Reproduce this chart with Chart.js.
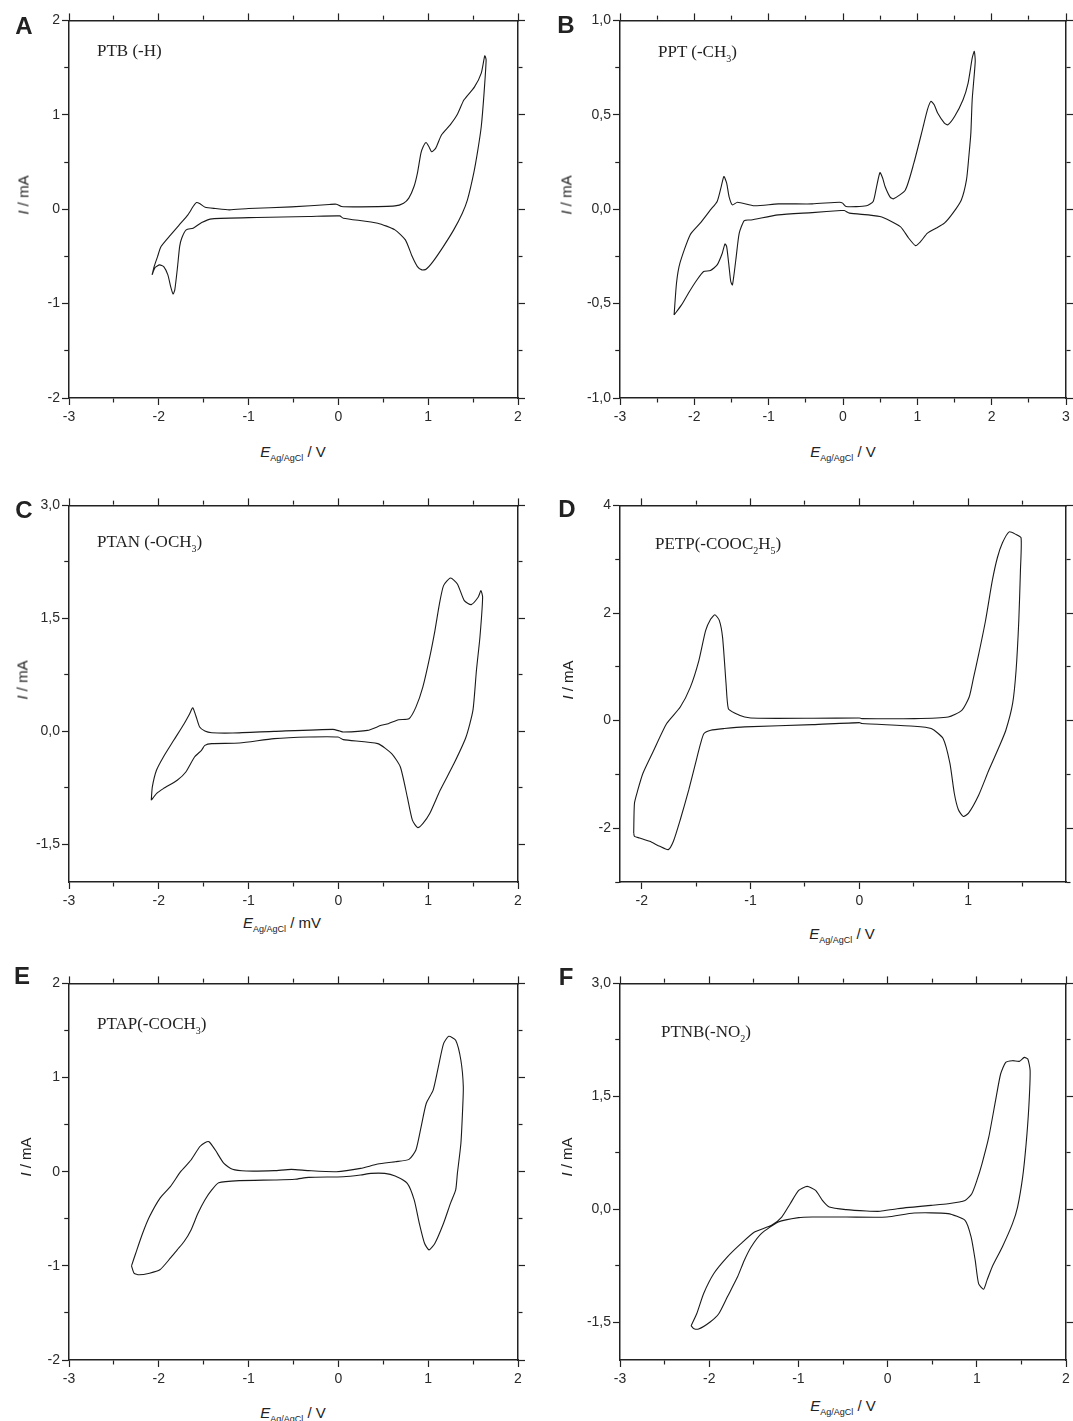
<!DOCTYPE html>
<html>
<head>
<meta charset="utf-8">
<script src="https://cdn.jsdelivr.net/npm/chart.js@4.4.1/dist/chart.umd.min.js"></script>
<style>
  body { margin: 0; background: #fff; width: 1073px; height: 1421px; position: relative; overflow: hidden;
         font-family: "Liberation Sans", Arial, sans-serif; color: #222; }
  canvas { position: absolute; }
  .lbl { position: absolute; white-space: nowrap; transform: translate(-50%, -50%); line-height: 1; }
  .letter { font-weight: bold; font-size: 24px; }
  .xt { font-size: 15px; }
  .yt { font-size: 15px; transform: translate(-50%, -50%) rotate(-90deg); }
  .note { font-family: "Liberation Serif", "Times New Roman", serif; font-size: 17px; transform: translate(0, -50%); }
  sub { font-size: 9px; vertical-align: -4px; line-height: 0; }
  .note sub { font-size: 10px; vertical-align: -5px; }
</style>
</head>
<body>
<script>
// cyclic voltammograms, [E (V), I (mA)], one closed loop each
const ptbLoop = [
  [-2.075,-0.696],[-2.052,-0.608],[-2.014,-0.502],[-1.975,-0.396],[-1.868,-0.272],[-1.772,-0.166],
  [-1.676,-0.060],[-1.618,0.028],[-1.580,0.071],[-1.541,0.057],[-1.484,0.021],[-1.368,0.007],
  [-1.214,-0.007],[-1.0,0.007],[-0.523,0.025],[-0.10,0.05],[-0.023,0.053],[0.035,0.028],
  [0.246,0.025],[0.630,0.035],[0.726,0.064],[0.784,0.117],[0.842,0.240],[0.880,0.382],
  [0.919,0.594],[0.945,0.664],[0.976,0.707],[1.007,0.664],[1.038,0.608],[1.084,0.647],
  [1.149,0.788],[1.245,0.894],[1.322,1.0],[1.399,1.159],[1.514,1.293],[1.591,1.442],[1.630,1.625],
  [1.645,1.583],[1.622,1.230],[1.591,0.876],[1.553,0.629],[1.507,0.382],[1.437,0.099],
  [1.380,-0.042],[1.284,-0.219],[1.168,-0.396],[1.053,-0.555],[0.976,-0.636],[0.930,-0.643],
  [0.880,-0.608],[0.822,-0.502],[0.746,-0.325],[0.630,-0.219],[0.438,-0.148],[0.054,-0.095],
  [0.015,-0.071],[-0.331,-0.078],[-0.907,-0.088],[-1.407,-0.102],[-1.522,-0.141],[-1.618,-0.201],
  [-1.695,-0.219],[-1.745,-0.307],[-1.768,-0.396],[-1.791,-0.608],[-1.822,-0.855],[-1.841,-0.898],
  [-1.868,-0.820],[-1.899,-0.696],[-1.945,-0.608],[-1.991,-0.590],[-2.041,-0.618],[-2.075,-0.696]
];
const pptLoop = [
  [-2.272,-0.560],[-2.240,-0.392],[-2.194,-0.286],[-2.057,-0.136],[-1.921,-0.074],[-1.784,-0.004],
  [-1.693,0.041],[-1.638,0.120],[-1.602,0.173],[-1.565,0.138],[-1.533,0.067],[-1.488,0.023],
  [-1.419,0.037],[-1.191,0.018],[-0.871,0.028],[-0.415,0.028],[-0.050,0.037],[-0.005,0.032],
  [0.041,0.014],[0.315,0.018],[0.406,0.041],[0.452,0.120],[0.497,0.194],[0.534,0.164],
  [0.566,0.120],[0.634,0.064],[0.680,0.055],[0.839,0.102],[0.953,0.244],[1.068,0.420],
  [1.136,0.527],[1.182,0.571],[1.227,0.553],[1.273,0.509],[1.364,0.456],[1.410,0.447],
  [1.501,0.491],[1.615,0.580],[1.683,0.668],[1.738,0.800],[1.766,0.836],
  [1.779,0.783],[1.738,0.580],[1.720,0.403],[1.693,0.279],[1.661,0.155],[1.592,0.049],
  [1.478,-0.021],[1.364,-0.074],[1.250,-0.101],[1.136,-0.127],[1.045,-0.171],[0.976,-0.193],
  [0.885,-0.154],[0.771,-0.092],[0.497,-0.039],[0.087,-0.021],[0.018,-0.007],[-0.027,-0.007],
  [-0.415,-0.018],[-0.871,-0.030],[-1.236,-0.057],[-1.328,-0.060],[-1.396,-0.127],[-1.442,-0.269],
  [-1.487,-0.401],[-1.510,-0.383],[-1.533,-0.304],[-1.565,-0.198],[-1.588,-0.184],[-1.624,-0.233],
  [-1.693,-0.295],[-1.784,-0.325],[-1.875,-0.330],[-1.966,-0.375],[-2.080,-0.445],[-2.172,-0.507],
  [-2.272,-0.560]
];
const ptanLoop = [
  [-2.084,-0.914],[-2.072,-0.738],[-2.026,-0.517],[-1.949,-0.340],[-1.834,-0.119],[-1.718,0.102],
  [-1.656,0.234],[-1.622,0.314],[-1.583,0.190],[-1.545,0.057],[-1.487,0.004],[-1.410,-0.018],
  [-1.179,-0.022],[-0.716,0.0],[-0.062,0.027],[0.015,0.004],[0.054,-0.009],[0.324,0.013],
  [0.478,0.080],[0.555,0.102],[0.670,0.155],[0.786,0.168],[0.863,0.322],[0.940,0.587],
  [1.017,0.985],[1.075,1.338],[1.125,1.692],[1.171,1.935],[1.248,2.036],[1.325,1.957],
  [1.402,1.736],[1.479,1.683],[1.556,1.780],[1.587,1.868],
  [1.606,1.780],[1.576,1.250],[1.537,0.808],[1.498,0.278],[1.421,-0.075],[1.287,-0.428],
  [1.133,-0.782],[1.017,-1.091],[0.940,-1.224],[0.882,-1.277],[0.824,-1.179],[0.767,-0.870],
  [0.690,-0.473],[0.593,-0.296],[0.439,-0.163],[0.054,-0.110],[-0.004,-0.075],[-0.331,-0.075],
  [-0.716,-0.097],[-1.102,-0.155],[-1.410,-0.163],[-1.487,-0.186],[-1.525,-0.252],[-1.602,-0.340],
  [-1.699,-0.539],[-1.795,-0.649],[-1.949,-0.760],[-2.026,-0.826],[-2.084,-0.914]
];
const petpLoop = [
  [-2.074,-2.090],[-2.067,-1.535],[-2.036,-1.289],[-1.989,-0.980],[-1.896,-0.580],[-1.771,-0.055],
  [-1.646,0.253],[-1.553,0.623],[-1.475,1.116],[-1.413,1.671],[-1.366,1.887],[-1.328,1.967],
  [-1.288,1.868],[-1.257,1.547],[-1.225,0.684],[-1.204,0.222],[-1.147,0.142],[-1.054,0.068],
  [-0.929,0.043],[-0.430,0.043],[0.0,0.049],[0.022,0.037],[0.505,0.037],[0.817,0.068],
  [0.942,0.191],[1.010,0.438],[1.051,0.808],[1.098,1.239],[1.160,1.856],[1.222,2.596],
  [1.269,3.027],[1.316,3.305],[1.378,3.508],[1.441,3.459],[1.487,3.397],
  [1.481,2.781],[1.466,1.856],[1.441,0.931],[1.409,0.314],[1.347,-0.179],[1.285,-0.487],
  [1.191,-0.919],[1.098,-1.381],[1.004,-1.720],[0.957,-1.782],[0.911,-1.658],[0.873,-1.350],
  [0.833,-0.795],[0.770,-0.333],[0.661,-0.148],[0.505,-0.105],[0.022,-0.055],[0.0,-0.037],
  [-0.430,-0.074],[-1.054,-0.117],[-1.241,-0.148],[-1.366,-0.179],[-1.428,-0.240],[-1.459,-0.425],
  [-1.506,-0.795],[-1.568,-1.289],[-1.646,-1.843],[-1.709,-2.244],[-1.756,-2.398],[-1.834,-2.337],
  [-1.927,-2.244],[-2.021,-2.182],[-2.067,-2.152],[-2.074,-2.090]
];
const ptapLoop = [
  [-2.304,-1.0],[-2.257,-0.866],[-2.180,-0.654],[-2.103,-0.477],[-1.988,-0.283],[-1.872,-0.159],
  [-1.757,0.0],[-1.641,0.124],[-1.545,0.265],[-1.487,0.307],[-1.441,0.318],[-1.371,0.230],
  [-1.275,0.088],[-1.179,0.025],[-1.025,0.007],[-0.716,0.011],[-0.524,0.025],[-0.331,0.011],
  [-0.023,0.0],[0.247,0.035],[0.439,0.081],[0.632,0.106],[0.786,0.131],[0.863,0.230],
  [0.921,0.477],[0.978,0.724],[1.055,0.866],[1.113,1.113],[1.171,1.360],[1.229,1.438],
  [1.306,1.396],[1.364,1.184],[1.391,0.901],
  [1.383,0.654],[1.364,0.300],[1.325,-0.018],[1.306,-0.194],[1.248,-0.336],[1.171,-0.548],
  [1.075,-0.760],[1.009,-0.830],[0.959,-0.760],[0.901,-0.548],[0.844,-0.300],[0.767,-0.124],
  [0.632,-0.046],[0.516,-0.018],[0.362,-0.018],[0.247,-0.035],[0.054,-0.053],[-0.331,-0.060],
  [-0.485,-0.081],[-0.716,-0.088],[-1.102,-0.095],[-1.333,-0.117],[-1.410,-0.194],[-1.487,-0.300],
  [-1.564,-0.442],[-1.641,-0.618],[-1.718,-0.742],[-1.795,-0.830],[-1.872,-0.919],[-1.988,-1.042],
  [-2.103,-1.078],[-2.219,-1.095],[-2.276,-1.078],[-2.304,-1.0]
];
const ptnbLoop = [
  [-2.203,-1.545],[-2.139,-1.382],[-2.062,-1.117],[-1.948,-0.852],[-1.796,-0.631],[-1.644,-0.455],
  [-1.492,-0.300],[-1.301,-0.212],[-1.187,-0.102],[-1.092,0.075],[-0.997,0.252],[-0.902,0.305],
  [-0.807,0.252],[-0.731,0.119],[-0.654,0.031],[-0.464,-0.004],[-0.236,-0.022],[-0.084,-0.026],
  [0.107,0.009],[0.487,0.053],[0.677,0.075],[0.868,0.119],[0.944,0.208],[1.001,0.384],
  [1.058,0.605],[1.134,0.958],[1.210,1.444],[1.267,1.797],[1.324,1.951],[1.400,1.974],
  [1.476,1.965],[1.533,2.018],[1.572,1.996],[1.598,1.841],
  [1.583,1.355],[1.553,0.870],[1.514,0.428],[1.457,0.031],[1.400,-0.190],[1.286,-0.499],
  [1.172,-0.764],[1.115,-0.940],[1.077,-1.060],[1.020,-0.985],[0.982,-0.675],[0.936,-0.366],
  [0.868,-0.146],[0.677,-0.057],[0.297,-0.049],[-0.008,-0.102],[-0.464,-0.102],[-0.845,-0.102],
  [-0.997,-0.110],[-1.225,-0.168],[-1.416,-0.322],[-1.530,-0.499],[-1.606,-0.675],[-1.682,-0.896],
  [-1.796,-1.161],[-1.891,-1.382],[-1.986,-1.492],[-2.119,-1.589],[-2.176,-1.581],[-2.203,-1.545]
];

// axis ranges: [min, max, major step, minor step]
const xRanges = { A: [-3, 2, 1, 0.5], B: [-3, 3, 1, 0.5], C: [-3, 2, 1, 0.5], D: [-2.2, 1.9, 1, 0.5], E: [-3, 2, 1, 0.5], F: [-3, 2, 1, 0.5] };
const yRanges = { A: [-2, 2, 1, 0.5], B: [-1, 1, 0.5, 0.25], C: [-2, 3, 1.5, 0.75], D: [-3, 4, 2, 1], E: [-2, 2, 1, 0.5], F: [-2, 3, 1.5, 0.75] };
const yDecimals = { A: 0, B: 1, C: 1, D: 0, E: 0, F: 1 };
const notes = {
  A: 'PTB (-H)', B: 'PPT (-CH<sub>3</sub>)', C: 'PTAN (-OCH<sub>3</sub>)',
  D: 'PETP(-COOC<sub>2</sub>H<sub>5</sub>)', E: 'PTAP(-COCH<sub>3</sub>)', F: 'PTNB(-NO<sub>2</sub>)'
};
const xUnits = { A: 'V', B: 'V', C: 'mV', D: 'V', E: 'V', F: 'V' };

// layout: plot box [left, top, right, bottom] and label spots
const panels = [
  { id: 'A', data: ptbLoop,  box: [69, 20, 518, 398],   letter: [24, 26],   note: [97, 50],    xt: [293, 451],  yt: [23, 195] },
  { id: 'B', data: pptLoop,  box: [620, 20, 1066, 398], letter: [566, 25],  note: [658, 51],   xt: [843, 451],  yt: [566, 195] },
  { id: 'C', data: ptanLoop, box: [69, 505, 518, 882],  letter: [24, 510],  note: [97, 541],   xt: [282, 922],  yt: [22, 680] },
  { id: 'D', data: petpLoop, box: [620, 505, 1066, 882], letter: [567, 509], note: [655, 543],  xt: [842, 933],  yt: [567, 680] },
  { id: 'E', data: ptapLoop, box: [69, 983, 518, 1360], letter: [22, 976],  note: [97, 1023],  xt: [293, 1412], yt: [25, 1157] },
  { id: 'F', data: ptnbLoop, box: [620, 983, 1066, 1360], letter: [566, 977], note: [661, 1031], xt: [843, 1405], yt: [566, 1157] }
];

const INK = '#222';
const PAD = { left: 50, right: 10, top: 10, bottom: 30 };

function isMajor(v, step) {
  const r = v / step;
  return Math.abs(r - Math.round(r)) < 1e-6;
}

function addLabel(cls, html, pos) {
  const d = document.createElement('div');
  d.className = 'lbl ' + cls;
  d.innerHTML = html;
  d.style.left = pos[0] + 'px';
  d.style.top = pos[1] + 'px';
  document.body.appendChild(d);
}

function makeAxis(position, range, dec, showLabels) {
  const [min, max, major, minor] = range;
  const horizontal = position === 'top' || position === 'bottom';
  const inward = position === 'left' || position === 'top';
  return {
    type: 'linear',
    position: position,
    min: min,
    max: max,
    afterFit: function(scale) {
      if (horizontal) scale.height = PAD[position];
      else scale.width = PAD[position];
    },
    ticks: {
      display: showLabels,
      stepSize: minor,
      includeBounds: false,
      autoSkip: false,
      maxRotation: 0,
      padding: horizontal ? 4 : 2,
      color: '#2a2a2a',
      font: { family: '"Liberation Sans", Arial, sans-serif', size: 14 },
      callback: function(value) {
        if (!isMajor(value, major)) return '';
        return dec ? value.toFixed(dec).replace('.', ',') : String(Math.round(value));
      }
    },
    grid: {
      drawOnChartArea: false,
      drawTicks: true,
      tickLength: 7,
      tickWidth: 1.2,
      tickColor: INK,
      // minor ticks: only the 4px next to the frame is drawn
      tickBorderDash: (ctx) => isMajor(ctx.tick.value, major) ? [] : [4, 20],
      tickBorderDashOffset: (ctx) => (isMajor(ctx.tick.value, major) || !inward) ? 0 : 21.75
    },
    border: { display: true, color: INK, width: 1.5 }
  };
}

panels.forEach(function(p) {
  const [l, t, r, b] = p.box;
  const canvas = document.createElement('canvas');
  canvas.width = (r - l) + PAD.left + PAD.right;
  canvas.height = (b - t) + PAD.top + PAD.bottom;
  canvas.style.left = (l - PAD.left) + 'px';
  canvas.style.top = (t - PAD.top) + 'px';
  document.body.appendChild(canvas);

  new Chart(canvas.getContext('2d'), {
    type: 'scatter',
    data: {
      datasets: [{
        data: p.data.map(([e, i]) => ({ x: e, y: i })),
        showLine: true,
        pointRadius: 0,
        borderColor: '#1a1a1a',
        borderWidth: 1.1,
        tension: 0.2,
        fill: false,
        xAxisID: 'x',
        yAxisID: 'y'
      }]
    },
    options: {
      responsive: false,
      animation: false,
      layout: { padding: 0 },
      plugins: { legend: { display: false }, tooltip: { enabled: false } },
      scales: {
        x: makeAxis('bottom', xRanges[p.id], 0, true),
        x2: makeAxis('top', xRanges[p.id], 0, false),
        y: makeAxis('left', yRanges[p.id], yDecimals[p.id], true),
        y2: makeAxis('right', yRanges[p.id], yDecimals[p.id], false)
      }
    }
  });

  addLabel('letter', p.id, p.letter);
  addLabel('note', notes[p.id], p.note);
  addLabel('xt', '<i>E</i><sub>Ag/AgCl</sub> / ' + xUnits[p.id], p.xt);
  addLabel('yt', '<i>I</i> / mA', p.yt);
});
</script>
</body>
</html>
